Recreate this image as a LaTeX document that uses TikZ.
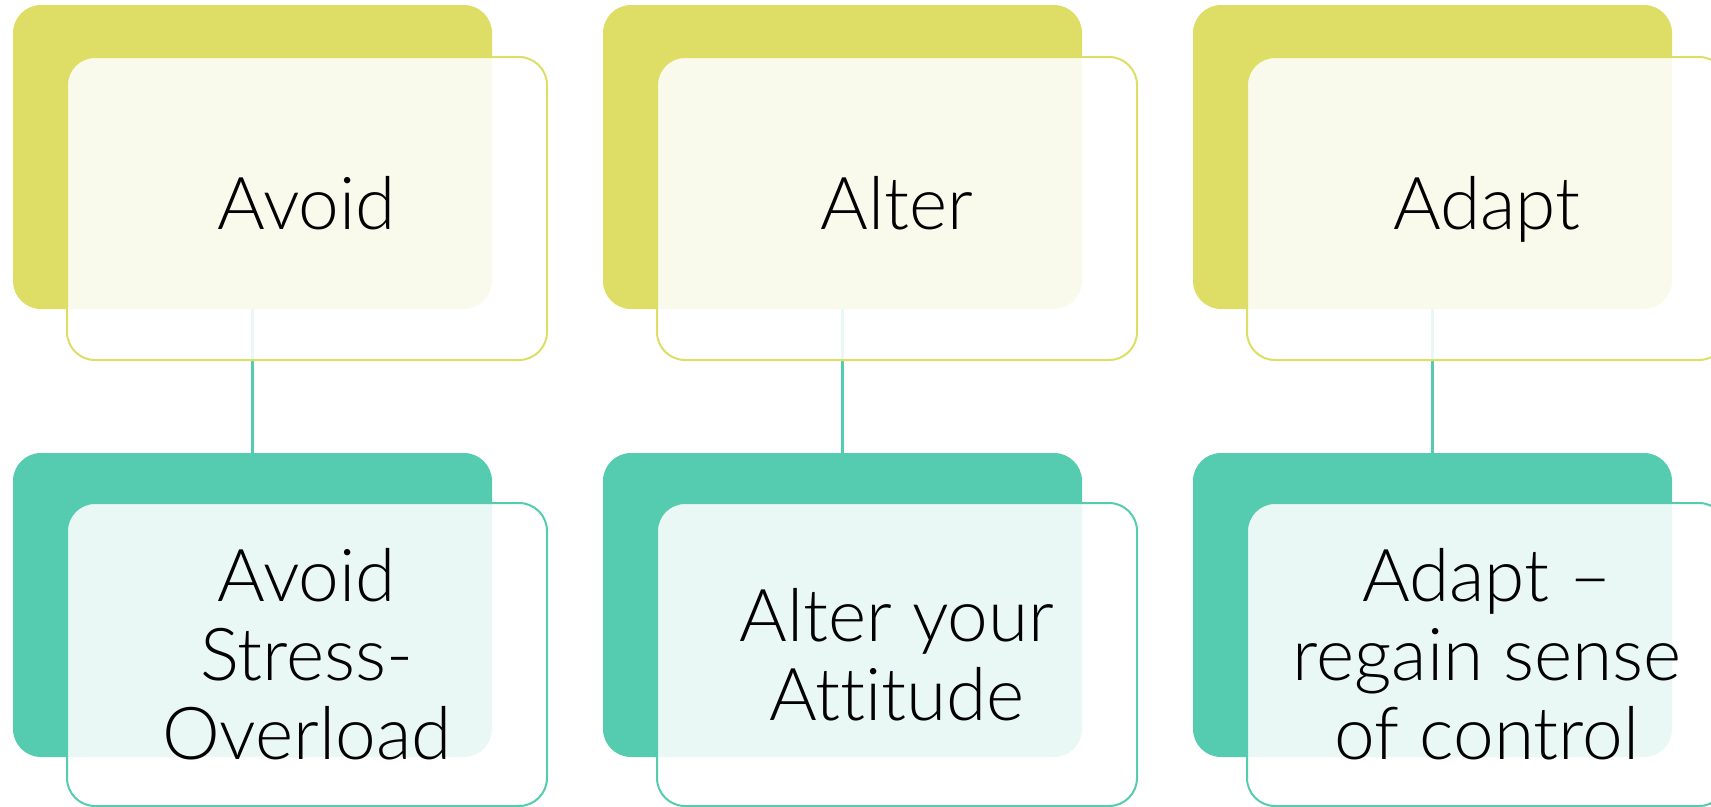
\documentclass[tikz,border=0pt]{standalone}
\usepackage{fontspec}
\setmainfont{Lato Light}[Ligatures={NoCommon}]
\definecolor{yel}{HTML}{DEDE66}
\definecolor{tea}{HTML}{55CCAF}
\newcommand{\toplabel}[1]{\raisebox{-21pt}[0pt][0pt]{#1}}
\begin{document}
\begin{tikzpicture}[x=1pt,y=-1pt,
  backbox/.style={rounded corners=28pt,minimum width=479pt,minimum height=304pt,inner sep=0pt,draw=none},
  frontbox/.style={rounded corners=28pt,minimum width=480pt,minimum height=303pt,inner sep=0pt,
     fill=white,fill opacity=0.88,text opacity=1,line width=2pt,align=center,
     font=\fontsize{73}{79}\selectfont},
  link/.style={draw=tea,line width=2.2pt}]
\useasboundingbox (0,0) rectangle (1711,806);
\clip (0,0) rectangle (1711,806);
% back boxes
\foreach \i/\x in {1/252.5,2/842.5,3/1432.5}{
  \node[backbox,fill=yel] (bt\i) at (\x,157) {};
  \node[backbox,fill=tea] (bb\i) at (\x,605) {};
}
% connectors
\foreach \i in {1,2,3}{
  \draw[link] (bt\i.south) -- (bb\i.north);
}
% front boxes
\node[frontbox,draw=yel] (ft1) at (307,208.5) {\toplabel{Avoid}};
\node[frontbox,draw=yel] (ft2) at (897,208.5) {\toplabel{Alter}};
\node[frontbox,draw=yel] (ft3) at (1487,208.5) {\toplabel{Adapt}};
\node[frontbox,draw=tea] (fb1) at (307,654.5) {Avoid\\Stress-\\Overload};
\node[frontbox,draw=tea] (fb2) at (897,654.5) {Alter your\\Attitude};
\node[frontbox,draw=tea] (fb3) at (1487,654.5) {Adapt –\\regain sense\\of control};
\end{tikzpicture}
\end{document}
